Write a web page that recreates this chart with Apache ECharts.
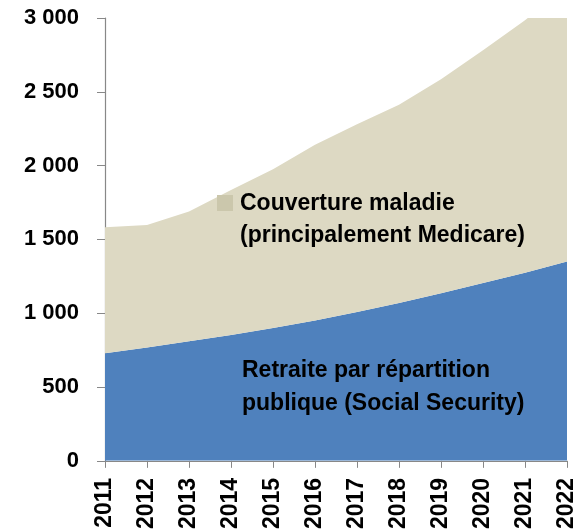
<!DOCTYPE html>
<html>
<head>
<meta charset="utf-8">
<style>
  html, body { margin: 0; padding: 0; background: #fff; }
  #chart { width: 580px; height: 532px; }
</style>
<script src="https://cdn.jsdelivr.net/npm/echarts@6/dist/echarts.min.js"></script>
</head>
<body>
<div id="chart"></div>
<script>
// années
const years = ['2011', '2012', '2013', '2014', '2015', '2016', '2017', '2018', '2019', '2020', '2021', '2022'];
// retraite par répartition (Social Security)
const socialSecurity = [728, 768, 810, 853, 900, 950, 1008, 1070, 1136, 1204, 1275, 1350];
// couverture maladie (Medicare), empilée au-dessus
const medicare = [855, 829, 879, 982, 1075, 1192, 1272, 1342, 1449, 1578, 1710, 1860];
const yTicks = [0, 500, 1000, 1500, 2000, 2500, 3000];

const FONT = '"Liberation Sans", Arial, sans-serif';

const chart = echarts.init(document.getElementById('chart'), null, { renderer: 'canvas' });

function fmt(v) {
  // séparateur des milliers : espace
  return String(v).replace(/\B(?=(\d{3})+(?!\d))/g, ' ');
}

const option = {
  animation: false,
  grid: { left: 105, right: 13, top: 18, bottom: 70 },
  xAxis: {
    type: 'category',
    data: years,
    boundaryGap: false,
    axisLine: { lineStyle: { color: '#888', width: 1.2 } },
    axisTick: { length: 7, lineStyle: { color: '#888' } },
    axisLabel: {
      rotate: 90,
      margin: 17,
      color: '#000',
      fontFamily: FONT,
      fontWeight: 'bold',
      fontSize: 23,
      interval: 0
    }
  },
  yAxis: {
    type: 'value',
    min: yTicks[0],
    max: yTicks[yTicks.length - 1],
    interval: 500,
    splitLine: { show: false },
    axisLine: { show: true, lineStyle: { color: '#888', width: 1.2 } },
    axisTick: { show: true, length: 8, lineStyle: { color: '#888' } },
    axisLabel: {
      margin: 26,
      color: '#000',
      fontFamily: FONT,
      fontWeight: 'bold',
      fontSize: 22,
      formatter: fmt
    }
  },
  series: [
    {
      name: 'Retraite par répartition publique (Social Security)',
      type: 'line',
      stack: 'total',
      data: socialSecurity,
      showSymbol: false,
      lineStyle: { width: 0 },
      areaStyle: { color: '#4F81BD', opacity: 1 },
      clip: true
    },
    {
      name: 'Couverture maladie (principalement Medicare)',
      type: 'line',
      stack: 'total',
      data: medicare,
      showSymbol: false,
      lineStyle: { width: 0 },
      areaStyle: { color: '#DDD9C3', opacity: 1 },
      clip: true
    }
  ],
  graphic: [
    {
      type: 'rect',
      z: 100,
      shape: { x: 217, y: 195, width: 16, height: 16 },
      style: { fill: '#CBC7AC' }
    },
    {
      type: 'text',
      z: 100,
      left: 240,
      top: 188,
      style: {
        text: 'Couverture maladie\n(principalement Medicare)',
        font: 'bold 23px ' + FONT,
        lineHeight: 32,
        fill: '#000'
      }
    },
    {
      type: 'text',
      z: 100,
      left: 242,
      top: 354,
      style: {
        text: 'Retraite par répartition\npublique (Social Security)',
        font: 'bold 23px ' + FONT,
        lineHeight: 33,
        fill: '#000'
      }
    }
  ]
};

chart.setOption(option);
</script>
</body>
</html>
